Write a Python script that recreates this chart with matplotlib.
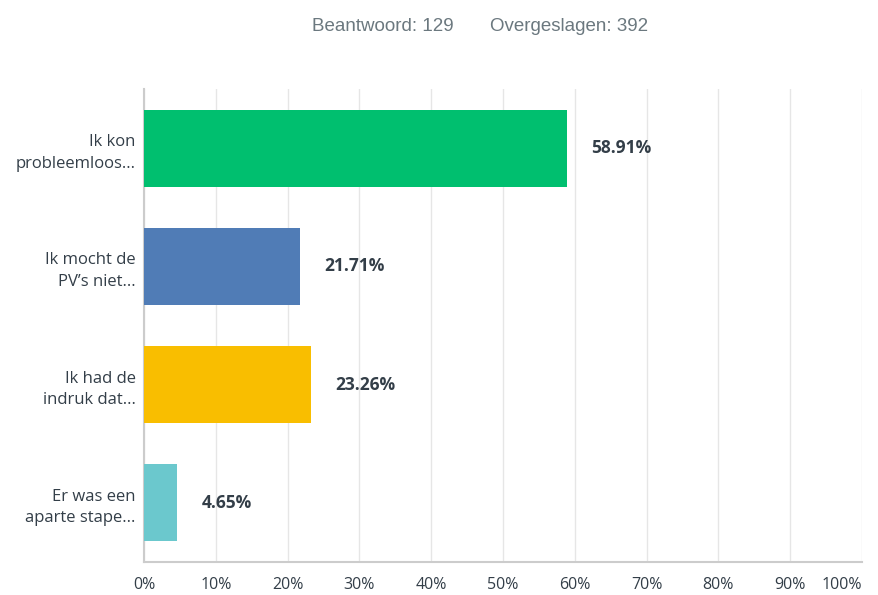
import matplotlib
matplotlib.use("Agg")
import matplotlib.pyplot as plt
from matplotlib.ticker import FuncFormatter

categories = ["Ik kon\nprobleemloos...", "Ik mocht de\nPV’s niet...",
              "Ik had de\nindruk dat...", "Er was een\naparte stape..."]
values = [58.91, 21.71, 23.26, 4.65]
colors = ["#00BF6F", "#507CB6", "#F9BE00", "#6BC8CD"]
answered, skipped = 129, 392
xticks = list(range(0, 101, 10))

plt.rcParams["font.family"] = ["Open Sans", "DejaVu Sans"]

fig = plt.figure(figsize=(8.79, 5.95), dpi=100)
ax = fig.add_axes([0.1638, 0.0555, 0.8169, 0.7949])

ypos = list(range(len(values)))
ax.barh(ypos, values, height=0.65, color=colors, zorder=3)
for y, v in zip(ypos, values):
    ax.text(v + 3.4, y, f"{v:.2f}%", va="center", ha="left",
            fontsize=12.5, fontweight="bold", color="#333E48", zorder=4)

ax.set_xlim(0, 100)
ax.set_ylim(3.5, -0.5)
ax.set_xticks(xticks)
ax.xaxis.set_major_formatter(FuncFormatter(lambda x, p: f"{x:.0f}%"))
ax.set_yticks(ypos)
ax.set_yticklabels(categories, fontsize=12, color="#333E48", linespacing=1.45)
ax.tick_params(axis="x", length=0, pad=11, labelsize=11.5, labelcolor="#333E48")
ax.tick_params(axis="y", length=0, pad=6)
ax.get_xticklabels()[-1].set_horizontalalignment("right")
ax.grid(axis="x", color="#E6E6E6", lw=1, zorder=0)
for s in ["top", "right"]:
    ax.spines[s].set_visible(False)
for s in ["left", "bottom"]:
    ax.spines[s].set_color("#CCCCCC")
    ax.spines[s].set_linewidth(1.5)

fig.text(0.355, 0.955, f"Beantwoord: {answered}", ha="left", va="center",
         fontsize=13.5, color="#6B787F", family=["Liberation Sans", "DejaVu Sans"])
fig.text(0.557, 0.955, f"Overgeslagen: {skipped}", ha="left", va="center",
         fontsize=13.5, color="#6B787F", family=["Liberation Sans", "DejaVu Sans"])

fig.savefig("out.png", dpi=100)
